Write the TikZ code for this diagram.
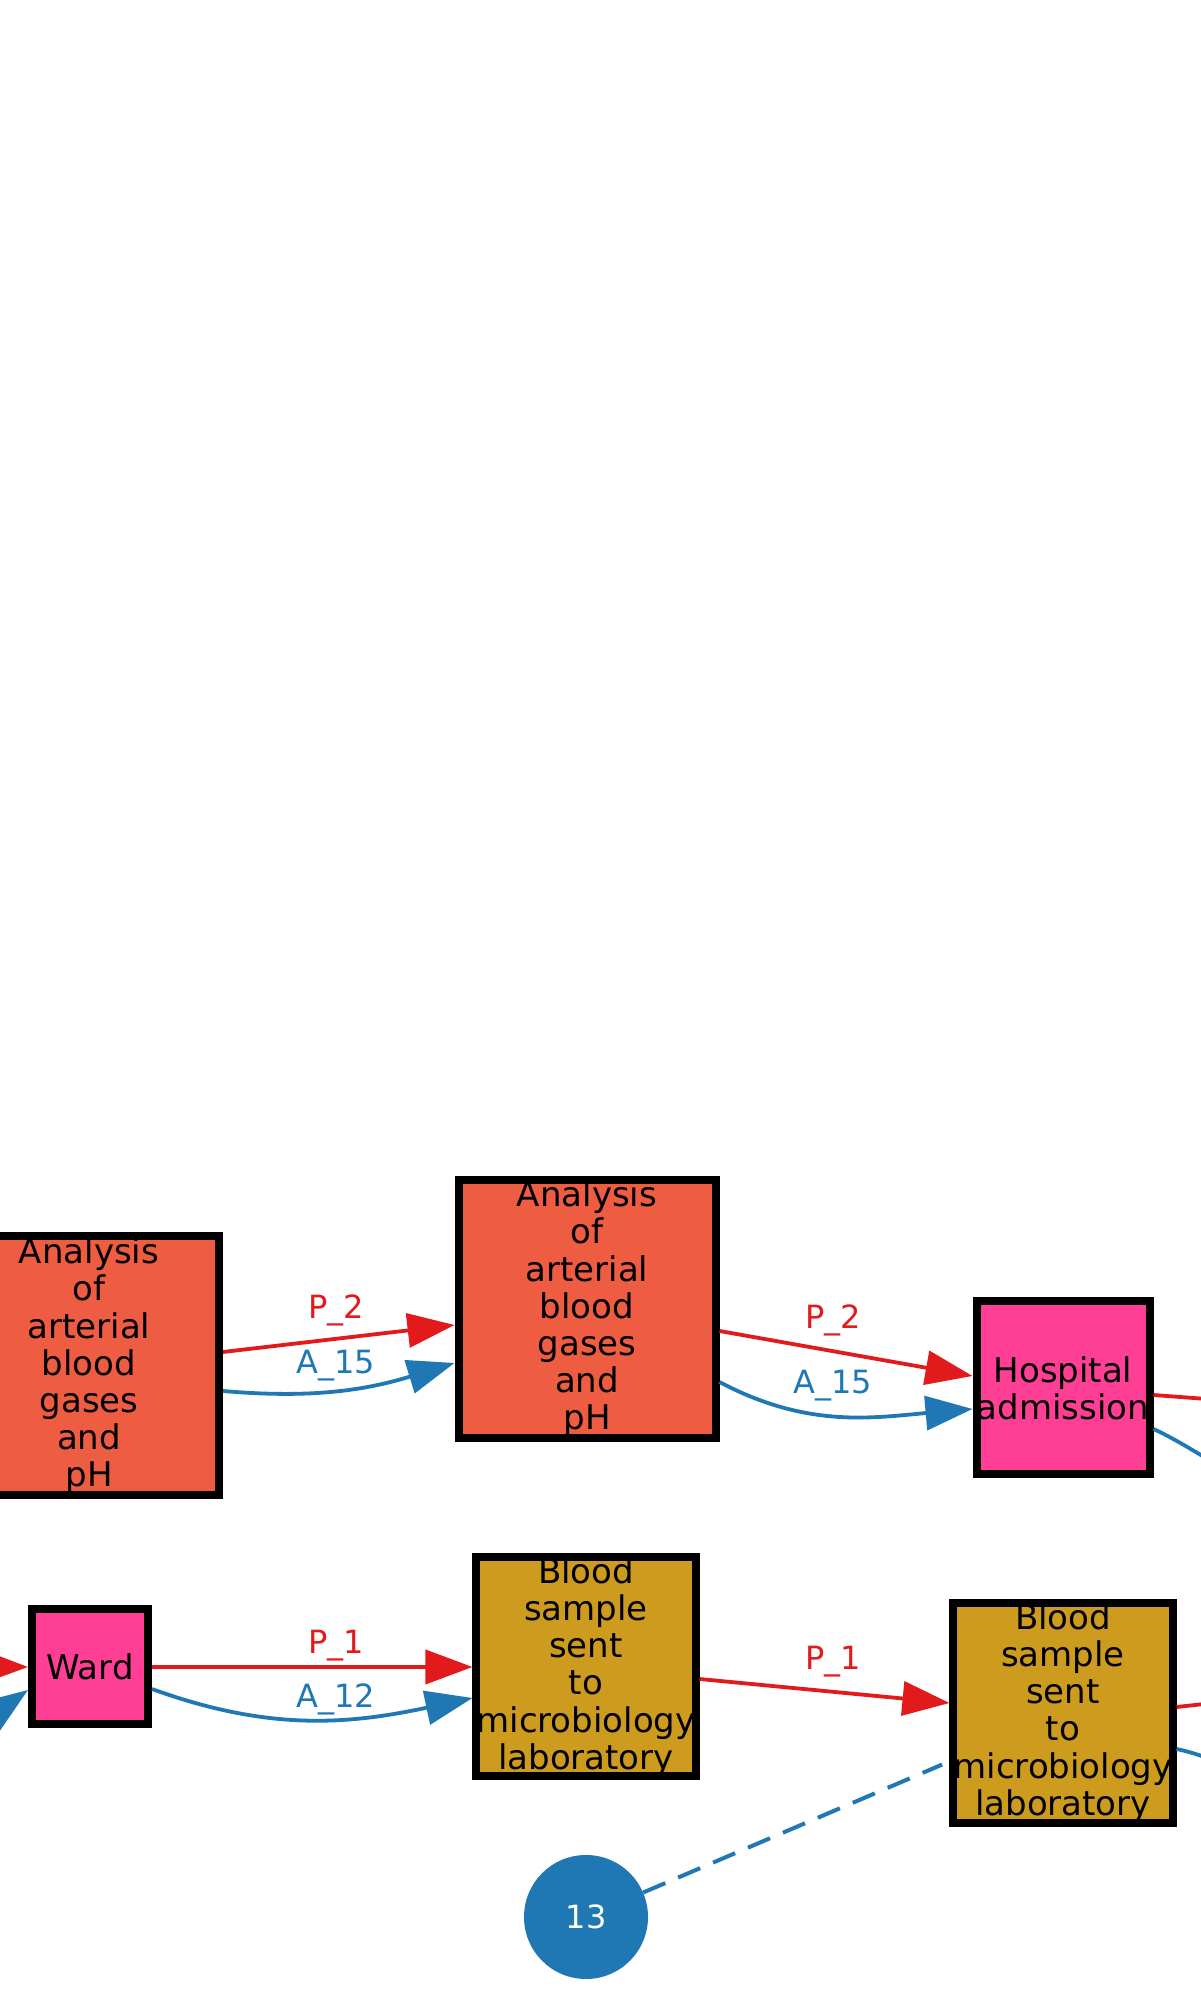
\documentclass[tikz,border=0pt]{standalone}
\usepackage{fontspec}
\setmainfont{DejaVu Sans}
\usetikzlibrary{arrows.meta,positioning}
\definecolor{tomatobox}{HTML}{EE5C42}
\definecolor{pinkbox}{HTML}{FF3E96}
\definecolor{goldbox}{HTML}{CD9B1D}
\definecolor{pathred}{HTML}{E31A1C}
\definecolor{pathblue}{HTML}{1F78B4}
\tikzset{
  actbox/.style={draw=black, line width=8pt, inner sep=0pt, align=center,
    font=\fontsize{34}{37.2}\selectfont},
  pedge/.style={draw=pathred, line width=3.8pt, -{Triangle[length=47pt,width=34pt]}},
  aedge/.style={draw=pathblue, line width=3.8pt, -{Triangle[length=47pt,width=34pt]}},
  plabel/.style={text=pathred, font=\fontsize{32}{36}\selectfont},
  alabel/.style={text=pathblue, font=\fontsize{32}{36}\selectfont},
}

\begin{document}
\begin{tikzpicture}[x=1pt,y=1pt]
	\useasboundingbox[fill=white] (0,0) rectangle (1201,1996);

	\node (ABG1)[actbox, fill=tomatobox, minimum width=260pt, minimum height=259pt] at (89,630) {Analysis\\of\\arterial\\blood\\gases\\and\\pH};
	\node (ABG2)[actbox, fill=tomatobox, minimum width=257pt, minimum height=258pt] at (587,687) {Analysis\\of\\arterial\\blood\\gases\\and\\pH};
	\node (HA)[actbox, fill=pinkbox, minimum width=173pt, minimum height=173pt] at (1063,608) {Hospital\\admission};
	\node (W)[actbox, fill=pinkbox, minimum width=116pt, minimum height=115pt] at (90,329) {Ward};
	\node (BS1)[actbox, fill=goldbox, minimum width=218pt, minimum height=219pt] at (586,329) {Blood\\sample\\sent\\to\\microbiology\\laboratory};
	\node (BS2)[actbox, fill=goldbox, minimum width=218pt, minimum height=220pt] at (1063,283) {Blood\\sample\\sent\\to\\microbiology\\laboratory};
	\node (N13)[circle, fill=pathblue, text=white, inner sep=0pt, minimum size=124pt, font=\fontsize{32}{36}\selectfont] at (586,79) {13};

	% loose ends at the page edges
	\coordinate (inR) at (-120,330);
	\coordinate (inB) at (-90,240);
	\coordinate (outHR) at (1260,593);
	\coordinate (outHB) at (1260,515);
	\coordinate (outBR) at (1260,298);
	\coordinate (outBB) at (1260,222);

	\draw [pedge] ([yshift=14pt]ABG1.east) to ([yshift=-16pt]ABG2.west);
	\draw [aedge] ([yshift=-25pt]ABG1.east) to[out=-5,in=197] ([yshift=-54pt]ABG2.west);
	\draw [pedge] ([yshift=-22pt]ABG2.east) to ([yshift=12pt]HA.west);
	\draw [aedge] ([yshift=-73pt]ABG2.east) to[out=-28,in=185] ([yshift=-21pt]HA.west);

	\draw [pedge] (inR) to (W.west);
	\draw [aedge] (inB) to[out=15,in=215] ([yshift=-23pt]W.west);
	\draw [pedge] (W.east) to (BS1.west);
	\draw [aedge] ([yshift=-22pt]W.east) to[out=-20,in=192] ([yshift=-31pt]BS1.west);
	\draw [pedge] ([yshift=-12pt]BS1.east) to ([yshift=10pt]BS2.west);

	\draw [pathred, line width=3.8pt] ([yshift=-7pt]HA.east) to (outHR);
	\draw [pathblue, line width=3.8pt] ([yshift=-41pt]HA.east) to[out=-25,in=165] (outHB);
	\draw [pathred, line width=3.8pt] ([yshift=6pt]BS2.east) to (outBR);
	\draw [pathblue, line width=3.8pt] ([yshift=-36pt]BS2.east) to[out=-12,in=170] (outBB);

	\draw [pathblue, line width=4pt, dash pattern=on 24pt off 14pt, shorten >=8pt] (N13) to (BS2);

	\node (L1)[plabel] at (336,686) {P\_2};
	\node (L2)[alabel] at (336,630) {A\_15};
	\node (L3)[plabel] at (833,676) {P\_2};
	\node (L4)[alabel] at (833,610) {A\_15};
	\node (L5)[plabel] at (336,350) {P\_1};
	\node (L6)[alabel] at (336,297) {A\_12};
	\node (L7)[plabel] at (833,334) {P\_1};

\end{tikzpicture}
\end{document}
